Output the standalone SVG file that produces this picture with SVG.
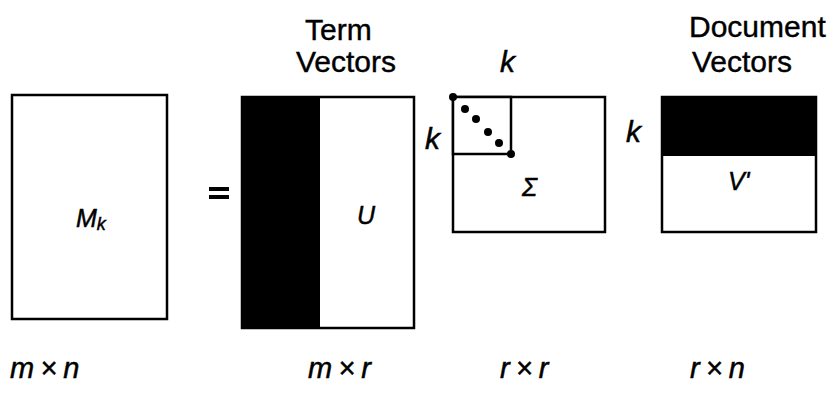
<svg xmlns="http://www.w3.org/2000/svg" width="839" height="405" viewBox="0 0 839 405">
<style>
.box{fill:#fff;stroke:#000;stroke-width:2.5}
.blk{fill:#000}
.hd{font-family:"Liberation Sans",Arial,sans-serif;font-size:30px;fill:#000;stroke:#000;stroke-width:0.4}
.it{font-family:"Liberation Sans",Arial,sans-serif;font-style:italic;fill:#000;stroke:#000;stroke-width:0.5}
.lab{font-size:25px}
.k{font-size:30px}
.dim{font-size:29px;word-spacing:-2px}
</style>
<rect width="839" height="405" fill="#fff"/>
<g id="Mk">
<rect class="box" x="12" y="95" width="155" height="224"/>
<text class="it lab" x="76" y="227">M<tspan font-size="18" dy="3">k</tspan></text>
</g>
<g id="equals">
<rect class="blk" x="209" y="187" width="20" height="4"/>
<rect class="blk" x="209" y="195" width="20" height="4"/>
</g>
<g id="U">
<text class="hd" x="305" y="40">Term</text>
<text class="hd" x="296" y="72">Vectors</text>
<rect class="box" x="242" y="97" width="172" height="231"/>
<rect class="blk" x="242" y="97" width="78" height="231"/>
<text class="it lab" x="357" y="224">U</text>
</g>
<g id="Sigma">
<text class="it k" x="500" y="72">k</text>
<text class="it k" x="425" y="149">k</text>
<rect class="box" x="453" y="97" width="152" height="135"/>
<rect class="box" x="453" y="97" width="58" height="57"/>
<circle cx="453" cy="97" r="4"/>
<circle cx="465" cy="109" r="4"/>
<circle cx="476" cy="119" r="4"/>
<circle cx="488" cy="132" r="4"/>
<circle cx="499" cy="143" r="4"/>
<circle cx="511" cy="154" r="4"/>
<text class="it lab" x="522" y="196">Σ</text>
</g>
<g id="V">
<text class="hd" x="689" y="37">Document</text>
<text class="hd" x="692" y="72">Vectors</text>
<text class="it k" x="626" y="142">k</text>
<rect class="box" x="662" y="97" width="154" height="135"/>
<rect class="blk" x="662" y="97" width="154" height="59"/>
<text class="it lab" x="728" y="190">V'</text>
</g>
<g id="connectors"/>
<g id="dims">
<text class="it dim" x="10" y="378">m × n</text>
<text class="it dim" x="308" y="378">m × r</text>
<text class="it dim" x="500" y="378">r × r</text>
<text class="it dim" x="690" y="378">r × n</text>
</g>
</svg>
